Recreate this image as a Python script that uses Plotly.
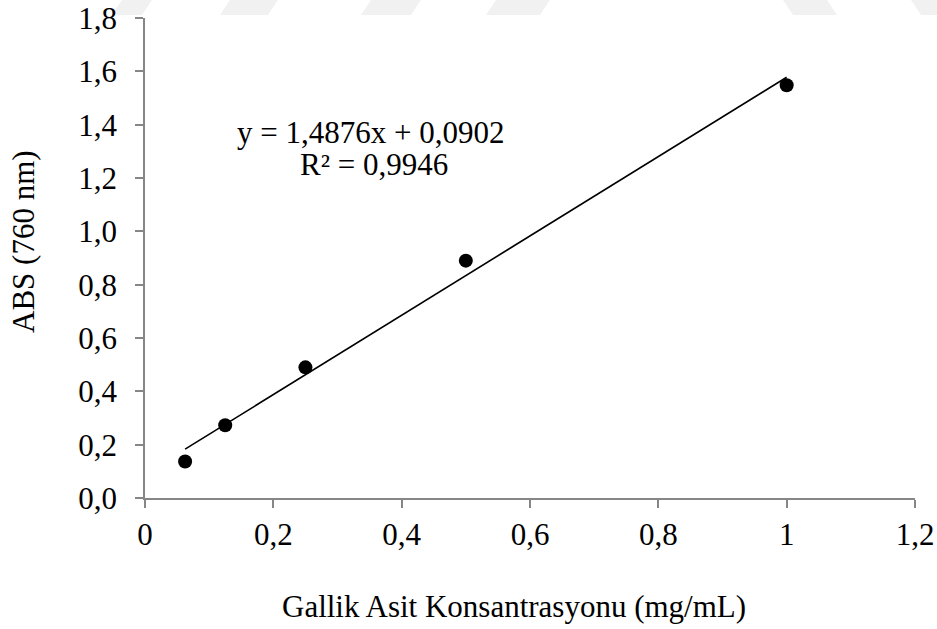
import plotly.graph_objects as go

# Data
conc = [0.0625, 0.125, 0.25, 0.5, 1.0]
absorb = [0.137, 0.273, 0.490, 0.890, 1.548]
slope = 1.4876
intercept = 0.0902
fit_x = [min(conc), max(conc)]
fit_y = [slope * v + intercept for v in fit_x]

x_tickvals = [0, 0.2, 0.4, 0.6, 0.8, 1.0, 1.2]
x_ticktext = ["0", "0,2", "0,4", "0,6", "0,8", "1", "1,2"]
y_tickvals = [0, 0.2, 0.4, 0.6, 0.8, 1.0, 1.2, 1.4, 1.6, 1.8]
y_ticktext = ["0,0", "0,2", "0,4", "0,6", "0,8", "1,0", "1,2", "1,4", "1,6", "1,8"]

FONT = "Times New Roman, Liberation Serif, serif"
W, H = 937, 629
ML, MR, MT, MB = 145, 22, 18, 131
PW, PH = W - ML - MR, H - MT - MB

def px2paper(px, py):
    return (px - ML) / PW, (H - MB - py) / PH

fig = go.Figure()
fig.add_trace(go.Scatter(x=fit_x, y=fit_y, mode="lines",
                         line=dict(color="black", width=1.6),
                         showlegend=False, hoverinfo="skip"))
fig.add_trace(go.Scatter(x=conc, y=absorb, mode="markers",
                         marker=dict(color="black", size=14),
                         showlegend=False))

# faint watermark shapes at the top
wm = [(112, 152, 0), (220, 278, 0), (361, 421, 0), (486, 550, 0), (783, 837, 1), (911, 950, 1)]
shapes = []
for a, b, d in wm:
    if d == 0:
        pts = [(a + 10, 0), (b, 0), (b - 10, 15), (a, 15)]
    else:
        pts = [(a, 0), (b - 10, 0), (b, 15), (a + 10, 15)]
    path = "M " + " L ".join(f"{px2paper(x, y)[0]:.4f},{px2paper(x, y)[1]:.4f}" for x, y in pts) + " Z"
    shapes.append(dict(type="path", xref="paper", yref="paper", path=path,
                       fillcolor="#f1f1f1", line=dict(width=0), layer="below"))

ax_common = dict(showgrid=False, zeroline=False, showline=True, linecolor="#868686",
                 linewidth=1.5, ticks="outside", tickcolor="#868686", ticklen=8, tickwidth=1.5,
                 automargin=False,
                 tickfont=dict(family=FONT, size=31, color="black"))

fig.update_layout(
    width=W, height=H,
    margin=dict(l=ML, r=MR, t=MT, b=MB, autoexpand=False),
    paper_bgcolor="white", plot_bgcolor="rgba(0,0,0,0)",
    xaxis=dict(range=[0, 1.2], tickvals=x_tickvals, ticktext=x_ticktext,
               ticklabelstandoff=0, **ax_common),
    yaxis=dict(range=[0, 1.8], tickvals=y_tickvals, ticktext=y_ticktext,
               ticklabelstandoff=12, **ax_common),
    shapes=shapes,
    annotations=[
        dict(text="y = 1,4876x + 0,0902", x=px2paper(370, 132)[0], y=px2paper(370, 132)[1],
             xref="paper", yref="paper", showarrow=False, xanchor="center", yanchor="middle",
             font=dict(family=FONT, size=31, color="black")),
        dict(text="R² = 0,9946", x=px2paper(374, 164)[0], y=px2paper(374, 164)[1],
             xref="paper", yref="paper", showarrow=False, xanchor="center", yanchor="middle",
             font=dict(family=FONT, size=31, color="black")),
        dict(text="Gallik Asit Konsantrasyonu (mg/mL)", x=px2paper(514, 606)[0], y=px2paper(514, 606)[1],
             xref="paper", yref="paper", showarrow=False, xanchor="center", yanchor="middle",
             font=dict(family=FONT, size=31, color="black")),
        dict(text="ABS (760 nm)", x=px2paper(23, 242)[0], y=px2paper(23, 242)[1],
             xref="paper", yref="paper", showarrow=False, xanchor="center", yanchor="middle",
             textangle=-90, font=dict(family=FONT, size=31, color="black")),
    ],
)

fig.write_html("out.html")
